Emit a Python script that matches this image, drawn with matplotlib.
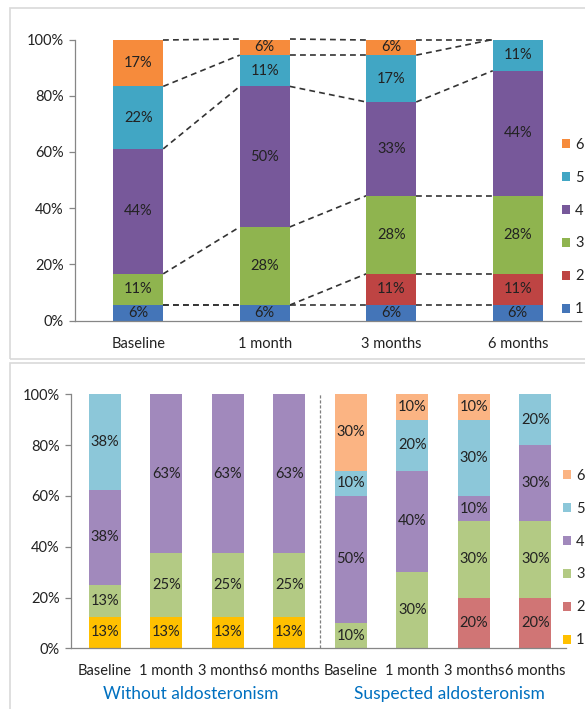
import numpy as np
import matplotlib
matplotlib.use("Agg")
import matplotlib.pyplot as plt
from matplotlib.patches import Rectangle, Patch
from matplotlib.ticker import FuncFormatter

plt.rcParams['font.family'] = ['Lato', 'DejaVu Sans']

# ---- data -------------------------------------------------------------
grades = ['1', '2', '3', '4', '5', '6']

# All patients (n = 18), number per grade at each time point
time_points = ['Baseline', '1 month', '3 months', '6 months']
all_total = 18
all_g1 = [1, 1, 1, 1]
all_g2 = [0, 0, 2, 2]
all_g3 = [2, 5, 5, 5]
all_g4 = [8, 9, 6, 8]
all_g5 = [4, 2, 3, 2]
all_g6 = [3, 1, 1, 0]

# Split by aldosteronism status
group_names = ['Without aldosteronism', 'Suspected aldosteronism']
split_labels = time_points + time_points
without_total = 8
suspected_total = 10
without_g1 = [1, 1, 1, 1]
without_g2 = [0, 0, 0, 0]
without_g3 = [1, 2, 2, 2]
without_g4 = [3, 5, 5, 5]
without_g5 = [3, 0, 0, 0]
without_g6 = [0, 0, 0, 0]
suspected_g1 = [0, 0, 0, 0]
suspected_g2 = [0, 0, 2, 2]
suspected_g3 = [1, 3, 3, 3]
suspected_g4 = [5, 4, 1, 3]
suspected_g5 = [1, 2, 3, 2]
suspected_g6 = [3, 1, 1, 0]

# ---- styling ----------------------------------------------------------
top_colors = ['#4475B8', '#BE4443', '#8FB44F', '#77589A', '#41A6C4', '#F68B3C']
bot_colors = ['#FFC000', '#D07575', '#B3CA84', '#A189BC', '#8CC7D9', '#FBB483']
axis_gray = '#868686'
text_col = '#222222'
FS = 10.5
W, H = 585, 709


def pct_matrix(rows, total):
    return np.array(rows, dtype=float) / total * 100.0


def fmt_pct(p):
    return f"{int(np.floor(p + 0.5))}%"


def style_axes(ax, xpad):
    for s in ('top', 'right'):
        ax.spines[s].set_visible(False)
    for s in ('left', 'bottom'):
        ax.spines[s].set_color(axis_gray)
        ax.spines[s].set_linewidth(0.9)
    ax.set_ylim(0, 100)
    ax.set_yticks(np.arange(0, 101, 20))
    ax.yaxis.set_major_formatter(FuncFormatter(lambda v, _: f"{v:.0f}%"))
    ax.tick_params(axis='y', length=4, width=0.9, color=axis_gray,
                   labelsize=FS, labelcolor=text_col, pad=4)
    ax.tick_params(axis='x', length=0, labelsize=FS, labelcolor=text_col,
                   pad=xpad)


def stacked(ax, pct, width, colors):
    x = np.arange(pct.shape[1])
    bottom = np.zeros(pct.shape[1])
    for k in range(pct.shape[0]):
        ax.bar(x, pct[k], width, bottom=bottom, color=colors[k],
               edgecolor='none', zorder=2)
        for xi, b, v in zip(x, bottom, pct[k]):
            if v > 0:
                ax.text(xi, b + v / 2, fmt_pct(v), ha='center', va='center',
                        fontsize=FS, color=text_col, zorder=3)
        bottom = bottom + pct[k]
    return x


fig = plt.figure(figsize=(W / 100, H / 100), dpi=100)

# panel frames
for y0, y1 in ((8, 359), (363, 715)):
    fig.patches.append(Rectangle((10 / W, 1 - y1 / H), 1.2, (y1 - y0) / H,
                                 transform=fig.transFigure, fill=False,
                                 edgecolor='#D9D9D9', linewidth=1.2))

# ---- top chart: all patients ----------------------------------------
ax1 = fig.add_axes([75 / W, 1 - 320.7 / H, (581 - 75) / W, (320.7 - 39.5) / H])
pct_all = pct_matrix([all_g1, all_g2, all_g3, all_g4, all_g5, all_g6], all_total)
w1 = 0.395
x1 = stacked(ax1, pct_all, w1, top_colors)
ax1.set_xlim(-0.5, 3.5)
ax1.set_xticks(x1)
ax1.set_xticklabels(time_points)
style_axes(ax1, 12)

# series lines joining segment tops of neighbouring bars
cum = np.cumsum(pct_all, axis=0)
for i in range(len(x1) - 1):
    for k in range(cum.shape[0]):
        ax1.plot([x1[i] + w1 / 2, x1[i + 1] - w1 / 2], [cum[k, i], cum[k, i + 1]],
                 color='#333333', lw=1.2, ls=(0, (3.5, 2.5)), zorder=1,
                 clip_on=False)

handles1 = [Patch(facecolor=top_colors[k], edgecolor='none', label=grades[k])
            for k in range(5, -1, -1)]
fig.legend(handles=handles1, loc='center left',
           bbox_to_anchor=(562 / W, 1 - 227 / H), frameon=False, fontsize=FS,
           handlelength=0.55, handleheight=0.55, handletextpad=0.35,
           labelspacing=1.3, borderpad=0, borderaxespad=0, labelcolor=text_col)

# ---- bottom chart: by aldosteronism status --------------------------
ax2 = fig.add_axes([71 / W, 1 - 648.3 / H, (566 - 71) / W, (648.3 - 394.3) / H])
pct_without = pct_matrix([without_g1, without_g2, without_g3, without_g4,
                          without_g5, without_g6], without_total)
pct_susp = pct_matrix([suspected_g1, suspected_g2, suspected_g3, suspected_g4,
                       suspected_g5, suspected_g6], suspected_total)
pct_split = np.hstack([pct_without, pct_susp])
x2 = stacked(ax2, pct_split, 0.52, bot_colors)
ax2.set_xlim(-0.55, 7.5)
ax2.set_xticks(x2)
ax2.set_xticklabels(split_labels)
style_axes(ax2, 11)
ax2.axvline(3.5, color='#7F7F7F', lw=0.9, ls=(0, (2.5, 1.5)), zorder=1)

for name, xc in zip(group_names, (1.4, 5.6)):
    ax2.text(xc, -0.18, name, transform=ax2.get_xaxis_transform(),
             ha='center', va='center', fontsize=12.5, color='#0070C0')

handles2 = [Patch(facecolor=bot_colors[k], edgecolor='none', label=grades[k])
            for k in range(5, -1, -1)]
fig.legend(handles=handles2, loc='center left',
           bbox_to_anchor=(563 / W, 1 - 558 / H), frameon=False, fontsize=FS,
           handlelength=0.55, handleheight=0.55, handletextpad=0.35,
           labelspacing=1.3, borderpad=0, borderaxespad=0, labelcolor=text_col)

fig.savefig('out.png', dpi=100)
